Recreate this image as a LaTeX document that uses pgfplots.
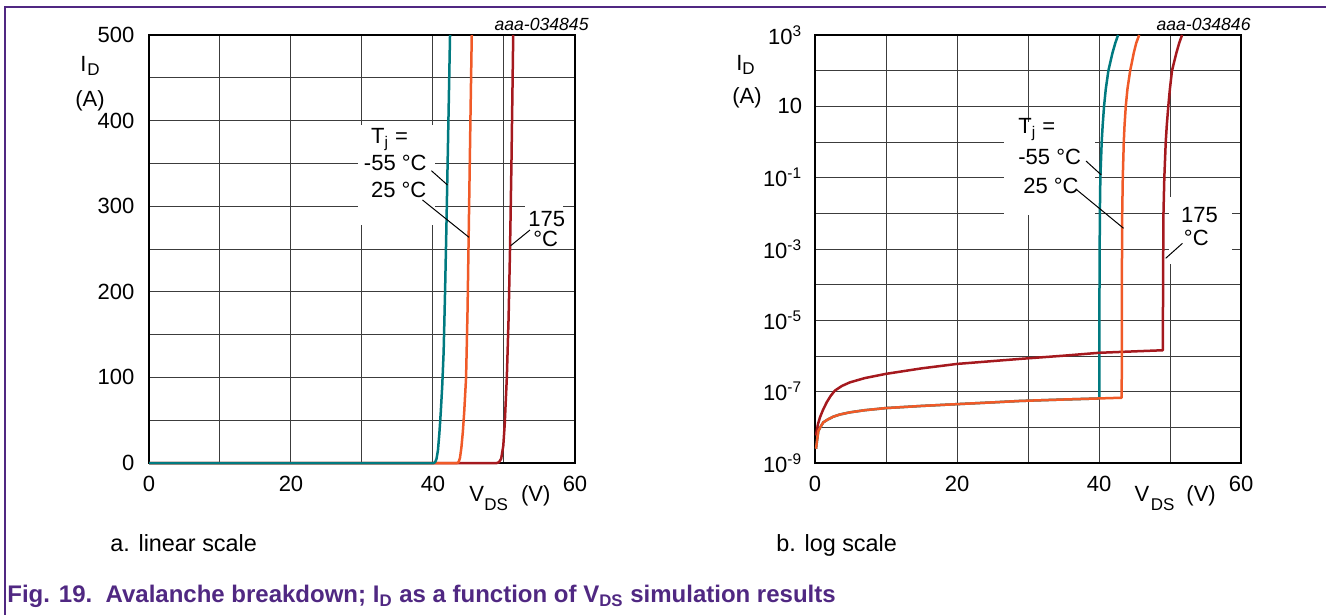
\documentclass[border=0pt]{standalone}
\usepackage{fontspec}
\setmainfont{Liberation Sans}
\usepackage{pgfplots}
\pgfplotsset{compat=1.18}
\usepackage{pgfplotstable}

\definecolor{cteal}{RGB}{0,122,128}
\definecolor{corange}{RGB}{240,90,40}
\definecolor{cred}{RGB}{165,25,30}
\definecolor{cpurple}{RGB}{80,40,130}
\definecolor{cgrid}{RGB}{60,60,60}

\newcommand{\fs}{\fontsize{11bp}{13bp}\selectfont}
\newcommand{\fsub}{\fontsize{8.5bp}{9bp}\selectfont}

% linear scale
\pgfplotstableread{
v I
0 0
40.1 0
40.3 1
40.5 5
40.7 15
40.9 35
41.1 60
41.3 90
41.5 130
41.7 200
41.9 280
42.15 390
42.4 500
}\linteal
\pgfplotstableread{
v I
0 0
43.4 0
43.6 1
43.8 6
44.0 18
44.2 36
44.4 60
44.66 100
44.87 180
45.07 290
45.27 400
45.46 500
}\linorange
\pgfplotstableread{
v I
0 0
49.0 0
49.3 1
49.6 5
49.9 20
50.1 45
50.4 100
50.65 170
50.85 250
51.05 350
51.3 500
}\linred

% log scale
\pgfplotstableread{
v I
0.14 2.51e-9
0.3 4.47e-9
0.47 7.94e-9
0.8 1.05e-8
1.17 1.38e-8
1.8 1.66e-8
2.6 2.0e-8
3.5 2.29e-8
4.9 2.63e-8
7 3.02e-8
10 3.47e-8
15 3.98e-8
20 4.47e-8
25 5.01e-8
28.9 5.5e-8
35 6.03e-8
40.05 6.46e-8
40.07 1e-4
40.12 1e-2
40.19 0.1
40.38 1
40.52 3
40.71 10
40.95 30
41.32 100
41.9 316
42.3 600
42.69 1000
}\logteal
\pgfplotstableread{
v I
0.14 2.51e-9
0.3 4.47e-9
0.47 7.94e-9
0.8 1.05e-8
1.17 1.38e-8
1.8 1.66e-8
2.6 2.0e-8
3.5 2.29e-8
4.9 2.63e-8
7 3.02e-8
10 3.47e-8
15 3.98e-8
20 4.47e-8
25 5.01e-8
28.9 5.5e-8
35 6.03e-8
40 6.46e-8
43.2 6.76e-8
43.22 1e-4
43.27 1e-2
43.35 0.1
43.49 1
43.6 3
43.77 10
44.0 30
44.39 100
44.9 316
45.25 600
45.66 1000
}\logorange
\pgfplotstableread{
v I
0.14 5.9e-9
0.4 1.2e-8
0.7 1.9e-8
1.1 3.0e-8
1.64 5.0e-8
2.2 7.6e-8
2.8 1.07e-7
3.8 1.45e-7
4.9 1.82e-7
7 2.4e-7
10 3.16e-7
15 4.5e-7
20 6.0e-7
25 7.2e-7
28.9 8.3e-7
35 1.02e-6
40 1.23e-6
45 1.35e-6
49.0 1.45e-6
49.02 1e-4
49.08 1e-2
49.2 0.1
49.4 1
49.55 3
49.76 10
49.98 30
50.28 100
50.9 316
51.3 600
51.7 1000
}\logred

\pgfplotsset{
  panel/.style={
    scale only axis, width=213bp, height=214bp,
    anchor=south west, clip=false,
    xmin=0, xmax=60,
    xtick={0,10,...,60}, xticklabels={0,,20,,40,,60},
    grid=major,
    major grid style={cgrid, line width=0.5bp},
    major tick length=0pt, minor tick length=0pt,
    xminorticks=false, yminorticks=false,
    axis line style={black, line width=0.6bp},
    tick label style={font=\fs},
    xticklabel style={yshift=-3bp},
    every axis plot/.append style={line width=1.25bp, line join=round, no markers},
  },
}

\begin{document}
\begin{tikzpicture}

% panel a, linear scale
\begin{axis}[panel, at={(74.5bp,-231.5bp)},
    ymin=0, ymax=500,
    ytick={0,50,...,500},
    yticklabels={0,,100,,200,,300,,400,,500},
    yticklabel style={xshift=-3.8bp},
]
\fill[white] (axis cs:29.5,395) rectangle (axis cs:40.3,278);
\fill[white] (axis cs:53.0,307) rectangle (axis cs:58.3,252);
\addplot[cred] table[x=v,y=I] {\linred};
\addplot[corange] table[x=v,y=I] {\linorange};
\addplot[cteal] table[x=v,y=I] {\linteal};
\end{axis}

% panel b, log scale
\begin{axis}[panel, at={(407.5bp,-231.5bp)},
    ymode=log, ymin=1e-9, ymax=1e3,
    ytick={1e-9,1e-8,1e-7,1e-6,1e-5,1e-4,1e-3,1e-2,1e-1,1,10,100,1000},
    yticklabels={10\textsuperscript{-9},,10\textsuperscript{-7},,10\textsuperscript{-5},,10\textsuperscript{-3},,10\textsuperscript{-1},,10,,10\textsuperscript{3}},
    yticklabel style={xshift=-2.9bp},
]
\fill[white] (axis cs:26.6,3.7) rectangle (axis cs:39.5,8.9e-3);
\fill[white] (axis cs:49.8,0.029) rectangle (axis cs:58.7,3.9e-4);
\addplot[cteal] table[x=v,y=I] {\logteal};
\addplot[cred] table[x=v,y=I] {\logred};
\addplot[corange] table[x=v,y=I] {\logorange};
\end{axis}

% everything else in reference pixels (origin top left)
\begin{scope}[x=0.5bp, y=-0.5bp, every node/.style={inner sep=0pt, font=\fs}]
\draw[cpurple, line width=0.75bp] (5,615) -- (5,7) -- (1326,7);

% panel a labels
\node[anchor=base west] at (80,71.5) {I};
\node[anchor=base west, font=\fsub] at (87,76) {D};
\node[anchor=base west] at (75,107) {(A)};
\node[anchor=base west] at (469,502) {V};
\node[anchor=base west, font=\fsub] at (484,511) {DS};
\node[anchor=base west] at (520.7,502) {(V)};
\node[anchor=base east, font=\fontsize{8.8bp}{10bp}\selectfont\itshape] at (589,30) {aaa-034845};
\node[anchor=base west] at (370.7,144) {T\textsubscript{j} =};
\node[anchor=base west] at (363.6,171) {-55 °C};
\node[anchor=base west] at (370.7,198) {25 °C};
\node[anchor=base west] at (528,226.5) {175};
\node[anchor=base west] at (533,247) {°C};
\draw[line width=0.5bp] (431.4,170.7) -- (447.5,185);
\draw[line width=0.5bp] (422.5,200) -- (469,237.3);
\draw[line width=0.5bp] (530,230) -- (510.7,245.7);

% panel b labels
\node[anchor=base west] at (736,70.5) {I};
\node[anchor=base west, font=\fsub] at (742,75) {D};
\node[anchor=base west] at (732,104) {(A)};
\node[anchor=base west] at (1134.3,502) {V};
\node[anchor=base west, font=\fsub] at (1150.4,511) {DS};
\node[anchor=base west] at (1186.1,502) {(V)};
\node[anchor=base east, font=\fontsize{8.8bp}{10bp}\selectfont\itshape] at (1251,30) {aaa-034846};
\node[anchor=base west] at (1018,134) {T\textsubscript{j} =};
\node[anchor=base west] at (1018,165) {-55 °C};
\node[anchor=base west] at (1023,194) {25 °C};
\node[anchor=base west] at (1180.7,222.5) {175};
\node[anchor=base west] at (1183.6,246) {°C};
\draw[line width=0.5bp] (1086,161) -- (1101.4,175);
\draw[line width=0.5bp] (1077,190) -- (1123.6,228.3);
\draw[line width=0.5bp] (1182.5,243.3) -- (1165.7,258.3);

% captions
\node[anchor=base west, font=\fontsize{11.7bp}{13bp}\selectfont] at (110,552) {a. linear scale};
\node[anchor=base west, font=\fontsize{11.7bp}{13bp}\selectfont] at (776,552) {b. log scale};
\node[anchor=base west, text=cpurple, font=\fontsize{12bp}{14bp}\selectfont\bfseries] at (7,603)
  {Fig. 19.\ \ Avalanche breakdown; I\textsubscript{D} as a function of V\textsubscript{DS} simulation results};
\end{scope}

\pgfresetboundingbox
\path[use as bounding box] (0,0) rectangle (663bp,-307.5bp);
\end{tikzpicture}
\end{document}
